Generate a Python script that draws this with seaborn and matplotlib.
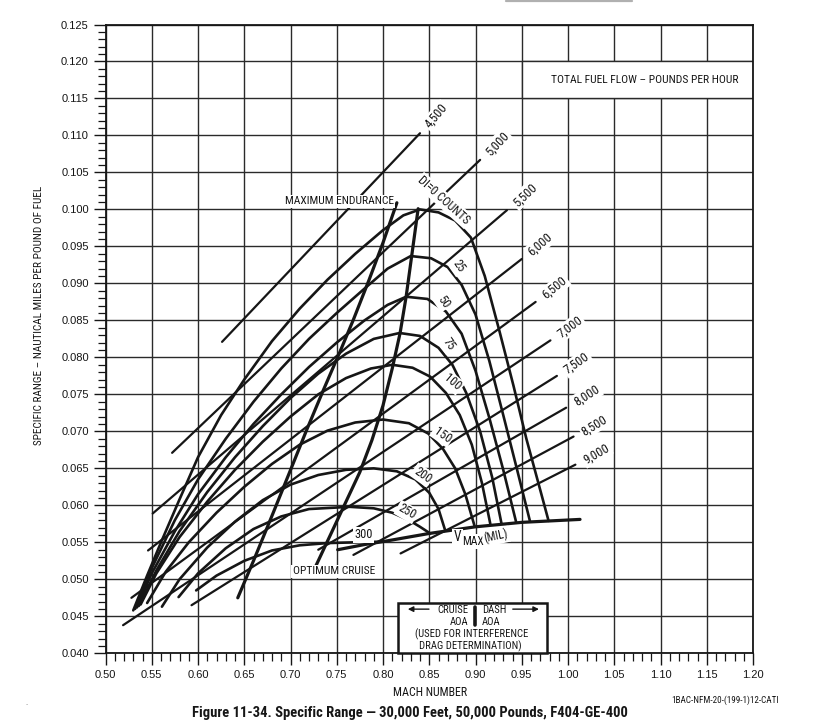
import numpy as np
import pandas as pd
import matplotlib
matplotlib.use("Agg")
import matplotlib.pyplot as plt
import seaborn as sns
from matplotlib.patches import Rectangle

# constant total fuel flow lines (lb/hr): end points
ff_labels = ["4,500", "5,000", "5,500", "6,000", "6,500", "7,000", "7,500", "8,000", "8,500", "9,000"]
ff_mach_lo = [0.626, 0.572, 0.551, 0.546, 0.528, 0.519, 0.593, 0.730, 0.768, 0.819]
ff_sr_lo = [0.0821, 0.0671, 0.0589, 0.0539, 0.0475, 0.0438, 0.0465, 0.0540, 0.0533, 0.0535]
ff_mach_hi = [0.840, 0.905, 0.934, 0.950, 0.965, 0.981, 0.988, 0.998, 1.006, 1.008]
ff_sr_hi = [0.1103, 0.1067, 0.0999, 0.0933, 0.0875, 0.0823, 0.0775, 0.0732, 0.0693, 0.0655]

# drag index curves
di0_mach = [0.530, 0.545, 0.560, 0.580, 0.600, 0.625, 0.650, 0.680, 0.710, 0.740, 0.770, 0.800, 0.822, 0.840,
            0.860, 0.878, 0.895, 0.910, 0.926, 0.941, 0.955, 0.968, 0.979]
di0_sr = [0.0458, 0.0505, 0.0550, 0.0608, 0.0665, 0.0722, 0.0770, 0.0822, 0.0866, 0.0905, 0.0940, 0.0972, 0.0992, 0.1000,
          0.0996, 0.0985, 0.0962, 0.0910, 0.0835, 0.0762, 0.0690, 0.0630, 0.0579]
di25_mach = [0.532, 0.550, 0.575, 0.600, 0.630, 0.660, 0.690, 0.720, 0.750, 0.780, 0.805, 0.830, 0.852, 0.870,
             0.885, 0.900, 0.915, 0.930, 0.945, 0.959]
di25_sr = [0.0460, 0.0515, 0.0580, 0.0635, 0.0690, 0.0740, 0.0785, 0.0825, 0.0860, 0.0893, 0.0920, 0.0937, 0.0934, 0.0922,
           0.0898, 0.0858, 0.0795, 0.0722, 0.0648, 0.0578]
di50_mach = [0.534, 0.550, 0.575, 0.600, 0.630, 0.660, 0.690, 0.720, 0.750, 0.780, 0.805, 0.825, 0.848, 0.868,
             0.885, 0.900, 0.915, 0.930, 0.944]
di50_sr = [0.0462, 0.0508, 0.0565, 0.0615, 0.0665, 0.0710, 0.0750, 0.0787, 0.0820, 0.0850, 0.0871, 0.0882, 0.0879, 0.0862,
           0.0832, 0.0782, 0.0718, 0.0648, 0.0577]
di75_mach = [0.536, 0.555, 0.580, 0.610, 0.640, 0.670, 0.700, 0.730, 0.760, 0.790, 0.818, 0.840, 0.860, 0.875,
             0.890, 0.905, 0.918, 0.928]
di75_sr = [0.0464, 0.0512, 0.0565, 0.0618, 0.0665, 0.0707, 0.0745, 0.0778, 0.0805, 0.0825, 0.0833, 0.0829, 0.0813, 0.0790,
           0.0752, 0.0700, 0.0638, 0.0576]
di100_mach = [0.538, 0.555, 0.580, 0.610, 0.640, 0.670, 0.700, 0.730, 0.760, 0.787, 0.810, 0.832, 0.851, 0.868,
              0.883, 0.896, 0.907, 0.916]
di100_sr = [0.0466, 0.0508, 0.0557, 0.0605, 0.0648, 0.0686, 0.0720, 0.0750, 0.0772, 0.0785, 0.0790, 0.0786, 0.0774, 0.0752,
            0.0722, 0.0682, 0.0630, 0.0575]
di150_mach = [0.545, 0.565, 0.590, 0.620, 0.650, 0.680, 0.710, 0.740, 0.770, 0.800, 0.828, 0.849, 0.865, 0.878,
              0.889, 0.899]
di150_sr = [0.0468, 0.0510, 0.0550, 0.0590, 0.0625, 0.0656, 0.0682, 0.0701, 0.0712, 0.0716, 0.0711, 0.0697, 0.0676, 0.0650,
            0.0615, 0.0572]
di200_mach = [0.561, 0.580, 0.610, 0.640, 0.670, 0.700, 0.730, 0.760, 0.790, 0.815, 0.835, 0.850, 0.860, 0.867]
di200_sr = [0.0463, 0.0500, 0.0543, 0.0578, 0.0607, 0.0628, 0.0641, 0.0648, 0.0650, 0.0646, 0.0635, 0.0617, 0.0595, 0.0567]
di250_mach = [0.579, 0.600, 0.630, 0.660, 0.690, 0.720, 0.764, 0.790, 0.810, 0.828, 0.840, 0.851]
di250_sr = [0.0476, 0.0508, 0.0542, 0.0568, 0.0585, 0.0595, 0.0598, 0.0596, 0.0590, 0.0580, 0.0571, 0.0562]
di300_mach = [0.598, 0.620, 0.650, 0.680, 0.710, 0.740, 0.770, 0.800]
di300_sr = [0.0485, 0.0505, 0.0525, 0.0539, 0.0546, 0.0549, 0.0550, 0.0551]

# boundary lines
endurance_mach = [0.643, 0.660, 0.681, 0.703, 0.7175, 0.7356, 0.7536, 0.768, 0.785, 0.800, 0.815]
endurance_sr = [0.0475, 0.0525, 0.0589, 0.0657, 0.0702, 0.0756, 0.0808, 0.0851, 0.0905, 0.0955, 0.1009]
cruise_mach = [0.727, 0.745, 0.760, 0.775, 0.788, 0.800, 0.810, 0.8185, 0.825, 0.831, 0.838]
cruise_sr = [0.0517, 0.0565, 0.0605, 0.0645, 0.0688, 0.0735, 0.0785, 0.0833, 0.0882, 0.0937, 0.1001]
vmax_mach = [0.751, 0.780, 0.800, 0.850, 0.900, 0.950, 1.013]
vmax_sr = [0.0540, 0.0547, 0.0551, 0.0562, 0.0571, 0.0577, 0.0581]

sns.set_style("white")
label_family = ["Roboto Condensed", "Liberation Sans Narrow", "Liberation Sans", "DejaVu Sans"]
plt.rcParams["font.family"] = label_family

W, H = 831, 720
fig = plt.figure(figsize=(W / 100, H / 100), dpi=100)
ax = fig.add_axes([105.5 / W, 1 - 653.3 / H, (753 - 105.5) / W, (653.3 - 24.5) / H])
ax.set_xlim(0.50, 1.20)
ax.set_ylim(0.040, 0.125)

ink = "#161616"

# fuel flow lines
ff_df = pd.concat([pd.DataFrame({"mach": [m0, m1], "sr": [s0, s1], "ff": lab})
                   for lab, m0, s0, m1, s1 in zip(ff_labels, ff_mach_lo, ff_sr_lo, ff_mach_hi, ff_sr_hi)])
sns.lineplot(data=ff_df, x="mach", y="sr", units="ff", estimator=None, sort=False,
             color=ink, lw=1.6, legend=False, ax=ax, zorder=3)

di_curves = [("0", di0_mach, di0_sr), ("25", di25_mach, di25_sr), ("50", di50_mach, di50_sr),
             ("75", di75_mach, di75_sr), ("100", di100_mach, di100_sr), ("150", di150_mach, di150_sr),
             ("200", di200_mach, di200_sr), ("250", di250_mach, di250_sr), ("300", di300_mach, di300_sr)]
di_df = pd.concat([pd.DataFrame({"mach": m, "sr": s, "di": n}) for n, m, s in di_curves])
sns.lineplot(data=di_df, x="mach", y="sr", units="di", estimator=None, sort=False,
             color=ink, lw=1.9, legend=False, ax=ax, zorder=3)

for m, s in [(endurance_mach, endurance_sr), (cruise_mach, cruise_sr), (vmax_mach, vmax_sr)]:
    sns.lineplot(x=m, y=s, sort=False, color=ink, lw=2.3, ax=ax, zorder=3)

# axes cosmetics
ax.set_xticks(np.arange(0.50, 1.2001, 0.05))
ax.set_xticks(np.arange(0.50, 1.2001, 0.01), minor=True)
ax.set_yticks(np.arange(0.040, 0.12501, 0.005))
ax.set_yticks(np.arange(0.040, 0.12501, 0.001), minor=True)
ax.set_xticklabels([f"{v:.2f}" for v in np.arange(0.50, 1.2001, 0.05)])
ax.set_yticklabels([f"{v:.3f}" for v in np.arange(0.040, 0.12501, 0.005)])
ax.grid(True, which="major", color="#2a2a2a", lw=1.0)
ax.set_axisbelow(True)
ax.tick_params(which="major", direction="out", length=8.5, width=1.0, color=ink, pad=3.5,
               labelsize=8, labelcolor=ink, bottom=True, left=True)
ax.tick_params(which="minor", direction="out", length=5.5, width=0.9, color=ink, bottom=True, left=True)
for lab in ax.get_xticklabels() + ax.get_yticklabels():
    lab.set_fontfamily(["Liberation Sans", "DejaVu Sans"])
for sp in ax.spines.values():
    sp.set_color(ink)
    sp.set_linewidth(1.3)
ax.set_xlabel("")
ax.set_ylabel("")

# fuel flow legend cell; its title is also used to find how wide the label font runs
ax.add_patch(Rectangle((0.95, 0.115), 0.25, 0.005, fc="white", ec="#2a2a2a", lw=1.0, zorder=1))
title = ax.text(1.0834, 0.1175, "TOTAL FUEL FLOW \u2013 POUNDS PER HOUR", ha="center", va="center",
                fontsize=8.5, color=ink, zorder=6)
fig.canvas.draw()
k = min(1.0, 186.0 / title.get_window_extent(fig.canvas.get_renderer()).width)
title.set_fontsize(8.5 * k)


def fs(size):
    return size * k


wbox = dict(boxstyle="square,pad=0.12", fc="white", ec="none")

# fuel flow labels along each line, past its upper end
for lab, m0, s0, m1, s1 in zip(ff_labels, ff_mach_lo, ff_sr_lo, ff_mach_hi, ff_sr_hi):
    p0 = ax.transData.transform((m0, s0))
    p1 = ax.transData.transform((m1, s1))
    ang = np.degrees(np.arctan2(p1[1] - p0[1], p1[0] - p0[0]))
    off = 17
    ax.annotate(lab, xy=(m1, s1), xytext=(off * np.cos(np.radians(ang)), off * np.sin(np.radians(ang))),
                textcoords="offset points", rotation=ang + 3, rotation_mode="anchor",
                ha="center", va="center", fontsize=fs(9.4), color=ink, bbox=wbox, zorder=6)

# drag index labels
di_text = [("25", 0.8814, 0.0923, -55), ("50", 0.8652, 0.0875, -55), ("75", 0.8706, 0.0818, -55),
           ("100", 0.8751, 0.0766, -40), ("150", 0.8643, 0.0695, -35), ("200", 0.8427, 0.0641, -35),
           ("250", 0.8256, 0.0591, -30), ("300", 0.7787, 0.0560, 0)]
for t, x, y, r in di_text:
    ax.text(x, y, t, rotation=r, rotation_mode="anchor", ha="center", va="center",
            fontsize=fs(9.2), color=ink, bbox=wbox, zorder=6)
ax.text(0.866, 0.1012, "DI=0 COUNTS", rotation=-42, rotation_mode="anchor", ha="center", va="center",
        fontsize=fs(9.0), color=ink, bbox=wbox, zorder=6)

ax.text(0.7527, 0.1011, "MAXIMUM ENDURANCE", ha="center", va="center", fontsize=fs(8.5), color=ink,
        bbox=wbox, zorder=6)
ax.text(0.747, 0.0511, "OPTIMUM CRUISE", ha="center", va="center", fontsize=fs(8.5), color=ink,
        bbox=wbox, zorder=6)

# V MAX (MIL)
ax.text(0.8805, 0.0557, "V", ha="center", va="center", fontsize=fs(10), color=ink, bbox=wbox, zorder=6)
ax.text(0.8968, 0.0551, "MAX", ha="center", va="center", fontsize=fs(8.6), color=ink, bbox=wbox, zorder=6)
ax.text(0.9222, 0.0558, "(MIL)", ha="center", va="center", rotation=12, fontsize=fs(8.6), color=ink,
        bbox=wbox, zorder=6)

# cruise / dash AOA box
ax.add_patch(Rectangle((0.8166, 0.040), 0.1604, 0.0068, fc="white", ec=ink, lw=1.8, zorder=4,
                       clip_on=False))
ax.plot([0.900, 0.900], [0.04628, 0.04385], color=ink, lw=2.6, zorder=6)
ax.annotate("", xy=(0.8238, 0.04597), xytext=(0.8527, 0.04597),
            arrowprops=dict(arrowstyle="-|>", color=ink, lw=1.0, mutation_scale=8), zorder=6)
ax.annotate("", xy=(0.9716, 0.04597), xytext=(0.9373, 0.04597),
            arrowprops=dict(arrowstyle="-|>", color=ink, lw=1.0, mutation_scale=8), zorder=6)
box_font = dict(fontsize=fs(7.9), color=ink, zorder=6, va="center")
ax.text(0.8919, 0.04581, "CRUISE", ha="right", **box_font)
ax.text(0.8919, 0.04419, "AOA", ha="right", **box_font)
ax.text(0.9067, 0.04581, "DASH", ha="left", **box_font)
ax.text(0.9067, 0.04419, "AOA", ha="left", **box_font)
ax.text(0.8959, 0.04257, "(USED FOR INTERFERENCE", ha="center", **box_font)
ax.text(0.8949, 0.04095, "DRAG DETERMINATION)", ha="center", **box_font)

# outer texts
fig.text(39 / W, 1 - 315 / H, "SPECIFIC RANGE \u2013 NAUTICAL MILES PER POUND OF FUEL", rotation=90,
         ha="center", va="center", fontsize=fs(8.3), color=ink)
fig.text(430 / W, 1 - 692 / H, "MACH NUMBER", ha="center", va="center", fontsize=fs(8.8), color=ink)
fig.text(725 / W, 1 - 700 / H, "1BAC-NFM-20-(199-1)12-CATI", ha="center", va="center", fontsize=fs(6.8),
         color=ink)
fig.text(410 / W, 1 - 717 / H,
         "Figure 11-34. Specific Range \u2014 30,000 Feet, 50,000 Pounds, F404-GE-400",
         ha="center", va="baseline", fontsize=10.5, fontweight="bold", color=ink)
fig.text(27 / W, 1 - 703 / H, ".", ha="center", va="center", fontsize=6, color="#555555")
fig.add_artist(plt.Line2D([506 / W, 632 / W], [1 - 0.6 / H, 1 - 0.6 / H], color="#b0b0b0", lw=1.6))

fig.savefig("out.png", dpi=100, facecolor="white")
